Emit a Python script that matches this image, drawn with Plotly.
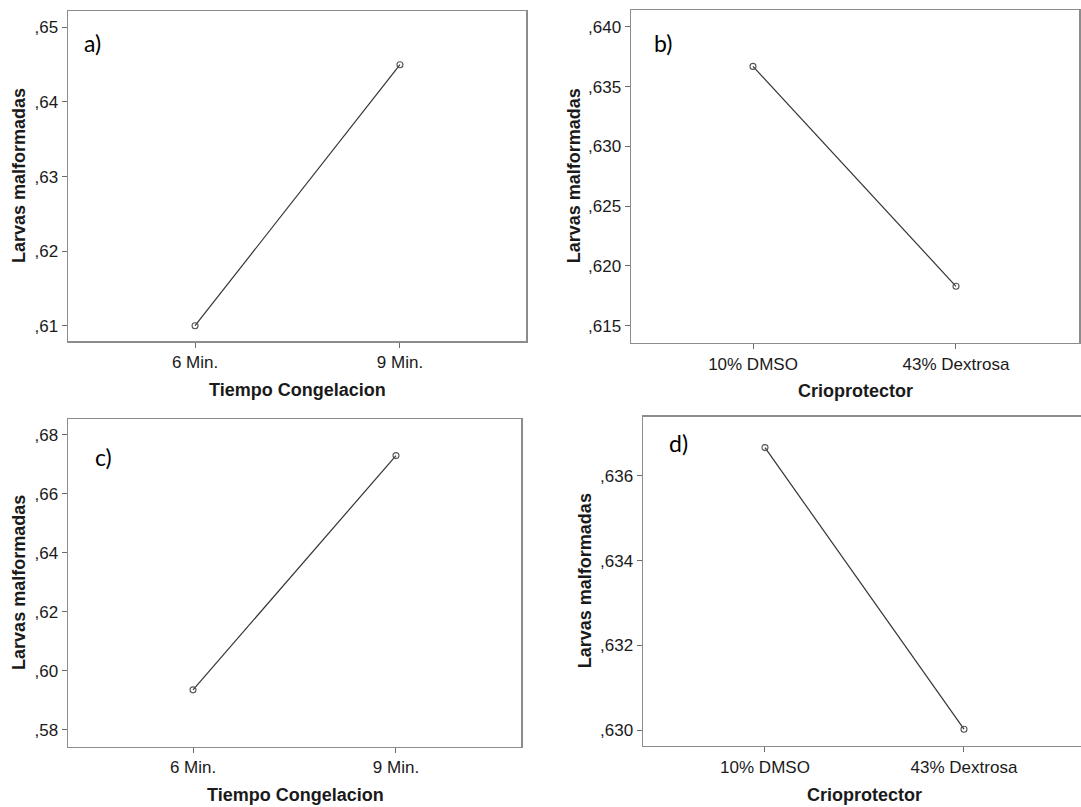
import plotly.graph_objects as go

# ---- data ----
cat_time = ["6 Min.", "9 Min."]
cat_crio = ["10% DMSO", "43% Dextrosa"]

vals_a = [0.610, 0.645]
vals_b = [0.6367, 0.6183]
vals_c = [0.5936, 0.6730]
vals_d = [0.63667, 0.63002]

ticks_a = [0.61, 0.62, 0.63, 0.64, 0.65]
ticks_b = [0.615, 0.620, 0.625, 0.630, 0.635, 0.640]
ticks_c = [0.58, 0.60, 0.62, 0.64, 0.66, 0.68]
ticks_d = [0.630, 0.632, 0.634, 0.636]

panel_labels = ["a)", "b)", "c)", "d)"]
y_title = "Larvas malformadas"
x_title_time = "Tiempo Congelacion"
x_title_crio = "Crioprotector"


def fmt(v, nd):
    s = f"{v:.{nd}f}"
    return s[1:].replace(".", ",")


W, H = 1081, 807
def px(x):
    return x / W
def py(y):
    return 1 - y / H

fig = go.Figure()

LINE = "#333333"
MARK = "#555555"
BORDER = "#8c8c8c"
TICKC = "#6a6a6a"
TXT = "#1a1a1a"
tickfont = dict(family="Liberation Sans, Arial", size=17, color=TXT)
titlefont = dict(family="Liberation Sans, Arial", size=18, color=TXT, weight="bold")

panels = [
    dict(cats=cat_time, vals=vals_a, ticks=ticks_a, nd=2, xd=(68, 526), yd=(11, 341),
         xr=[-0.62, 1.615], yr=[0.60795, 0.6522], mirror=True,
         lab=(82, 43), ytx=19, xtx=(297, 390), xt=x_title_time),
    dict(cats=cat_crio, vals=vals_b, ticks=ticks_b, nd=3, xd=(631, 1079), yd=(10, 342.7),
         xr=[-0.601, 1.606], yr=[0.61358, 0.64142], mirror=True,
         lab=(652, 43), ytx=574, xtx=(855, 391), xt=x_title_crio),
    dict(cats=cat_time, vals=vals_c, ticks=ticks_c, nd=2, xd=(68, 521), yd=(419.3, 746.5),
         xr=[-0.616, 1.616], yr=[0.5744, 0.6853], mirror=True,
         lab=(93, 457), ytx=19, xtx=(295, 795), xt=x_title_time),
    dict(cats=cat_crio, vals=vals_d, ticks=ticks_d, nd=3, xd=(643, 1081), yd=(416.7, 745.7),
         xr=[-0.613, 1.588], yr=[0.62963, 0.6374], mirror=False,
         lab=(667, 443), ytx=585, xtx=(864, 795), xt=x_title_crio),
]

layout = dict(
    width=W, height=H, margin=dict(l=0, r=0, t=0, b=0),
    paper_bgcolor="white", plot_bgcolor="white", showlegend=False,
)
annotations = []

for i, p in enumerate(panels):
    n = "" if i == 0 else str(i + 1)
    fig.add_trace(go.Scatter(
        x=p["cats"], y=p["vals"], mode="lines+markers",
        xaxis="x" + n, yaxis="y" + n,
        line=dict(color=LINE, width=1.2),
        marker=dict(symbol="circle-open", size=6, color=MARK, line=dict(width=1.1)),
        hoverinfo="skip",
    ))
    layout["xaxis" + n] = dict(
        domain=[px(p["xd"][0]), px(p["xd"][1])], anchor="y" + n,
        type="category", range=p["xr"],
        showline=True, linecolor=BORDER, linewidth=1.5,
        mirror=True, ticks="outside", ticklen=5, tickcolor=TICKC, tickwidth=1,
        showgrid=False, zeroline=False, tickfont=tickfont, fixedrange=True,
    )
    layout["yaxis" + n] = dict(
        domain=[py(p["yd"][1]), py(p["yd"][0])], anchor="x" + n,
        range=p["yr"], tickvals=p["ticks"],
        ticktext=[fmt(v, p["nd"]) for v in p["ticks"]],
        showline=True, linecolor=BORDER, linewidth=1.5,
        mirror=p["mirror"], ticks="outside", ticklen=5, tickcolor=TICKC, tickwidth=1,
        showgrid=False, zeroline=False, tickfont=tickfont, fixedrange=True,
    )
    annotations.append(dict(
        text=panel_labels[i], xref="paper", yref="paper",
        x=px(p["lab"][0]), y=py(p["lab"][1]), xanchor="left", yanchor="middle",
        showarrow=False, font=dict(family="Lato", size=23, color="black"),
    ))
    annotations.append(dict(
        text=y_title, xref="paper", yref="paper", textangle=-90,
        x=px(p["ytx"]), y=py((p["yd"][0] + p["yd"][1]) / 2),
        xanchor="center", yanchor="middle", showarrow=False, font=titlefont,
    ))
    annotations.append(dict(
        text=p["xt"], xref="paper", yref="paper",
        x=px(p["xtx"][0]), y=py(p["xtx"][1]),
        xanchor="center", yanchor="middle", showarrow=False, font=titlefont,
    ))

layout["annotations"] = annotations
fig.update_layout(**layout)
fig.write_html(
    "out.html",
    config={"displayModeBar": False, "staticPlot": True},
    post_script="document.body.style.margin='0';document.body.style.overflow='hidden';",
)
